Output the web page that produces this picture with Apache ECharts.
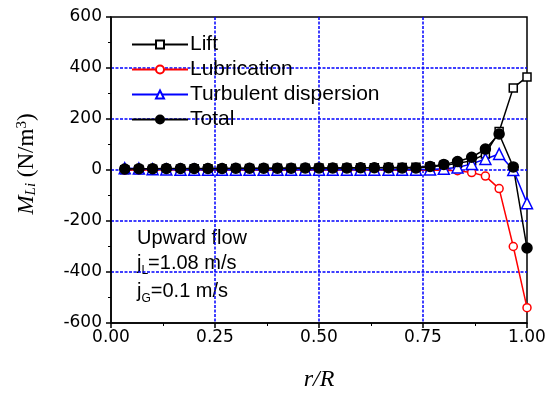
<!DOCTYPE html>
<html>
<head>
<meta charset="utf-8">
<script src="https://cdn.jsdelivr.net/npm/echarts@6/dist/echarts.min.js"></script>
<style>
  html, body { margin: 0; padding: 0; background: #fff; }
  #main { width: 558px; height: 397px; }
</style>
</head>
<body>
<div id="main"></div>
<script>
// r/R 位置
const rValues = [
  0.033, 0.067, 0.1, 0.133, 0.167, 0.2, 0.233, 0.267, 0.3, 0.333,
  0.367, 0.4, 0.433, 0.467, 0.5, 0.533, 0.567, 0.6, 0.633, 0.667,
  0.7, 0.733, 0.767, 0.8, 0.833, 0.867, 0.9, 0.933, 0.967, 1.0,
];
const liftVals = [
  1, 2, 3, 4, 4, 5, 5, 5, 6, 6,
  6, 7, 7, 7, 8, 8, 8, 9, 9, 10,
  10, 11, 13, 18, 26, 36, 63, 151, 322, 365,
];
const lubVals = [
  0, 0, 0, 0, 0, 0, 0, 0, 0, 0,
  0, 0, 0, 0, 0, 0, 0, 0, 0, 0,
  -1, -1, 0, -1, -3, -10, -24, -73, -300, -540,
];
const turbVals = [
  7, 6, 3, 2, 1, 1, 1, 1, 1, 1,
  1, 1, 1, 1, 1, 1, 1, 1, 1, 1,
  1, 1, 2, 5, 10, 24, 43, 63, 0, -130,
];
const totalVals = [
  4, 5, 5, 6, 6, 6, 6, 6, 7, 7,
  7, 7, 7, 8, 8, 8, 8, 9, 9, 9,
  8, 8, 14, 22, 33, 50, 82, 141, 12, -306,
];
const xTicks = [0, 0.25, 0.5, 0.75, 1.0];

const pairs = (vals) => rValues.map((r, i) => [r, vals[i]]);

const font = '"Liberation Sans", Arial, sans-serif';
const tickFont = '"DejaVu Sans", sans-serif';
const serif = '"Liberation Serif", "Times New Roman", serif';

// 网格线: 蓝色虚线
const gridLine = {
  show: true,
  lineStyle: { color: "#0000ff", type: [3, 1.5], width: 1.5 },
  showMinLine: false,
  showMaxLine: false,
};

const mkSeries = (name, vals, symbol, color, fill, size) => ({
  name,
  type: "line",
  data: pairs(vals),
  symbol,
  symbolSize: size,
  showSymbol: true,
  lineStyle: { color, width: 1.5 },
  itemStyle: { color: fill, borderColor: color, borderWidth: 1.5 },
  emphasis: { disabled: true },
  animation: false,
  z: 3,
});

const subRich = {
  a: { fontFamily: font, fontSize: 20, color: "#000" },
  s: { fontFamily: font, fontSize: 12, color: "#000", verticalAlign: "bottom", padding: [16, 0, 0, 0] },
};

const chart = echarts.init(document.getElementById("main"));
chart.setOption({
  animation: false,
  grid: { left: 111, right: 31, top: 17, bottom: 74, show: true, borderColor: "#000", borderWidth: 1.5, backgroundColor: "transparent" },
  xAxis: {
    type: "value",
    min: 0,
    max: 1,
    interval: 0.25,
    name: "r/R",
    nameLocation: "middle",
    nameGap: 45,
    nameTextStyle: { fontFamily: serif, fontStyle: "italic", fontSize: 24, color: "#000" },
    axisLine: { onZero: false, lineStyle: { color: "#000", width: 1.5 } },
    axisTick: { length: 5, lineStyle: { color: "#000", width: 1.5 } },
    minorTick: { show: true, splitNumber: 2, length: 3, lineStyle: { color: "#000", width: 1 } },
    axisLabel: {
      fontFamily: tickFont, fontSize: 17, color: "#000", margin: 6,
      formatter: (v) => v.toFixed(2),
      customValues: xTicks,
    },
    splitLine: gridLine,
  },
  yAxis: {
    type: "value",
    min: -600,
    max: 600,
    interval: 200,
    name: "{it|M}{sub|Li}{n| (N/m}{sup|3}{n|)}",
    nameLocation: "middle",
    nameRotate: 90,
    nameGap: 72,
    nameTextStyle: {
      color: "#000",
      padding: [0, 0, 0, 12],
      rich: {
        it: { fontFamily: serif, fontStyle: "italic", fontSize: 23, color: "#000" },
        sub: { fontFamily: serif, fontStyle: "italic", fontSize: 15, color: "#000", verticalAlign: "bottom", padding: [9, 0, 0, 0] },
        n: { fontFamily: serif, fontSize: 23, color: "#000" },
        sup: { fontFamily: serif, fontSize: 15, color: "#000", verticalAlign: "top", padding: [0, 0, 9, 0] },
      },
    },
    axisLine: { onZero: false, lineStyle: { color: "#000", width: 1.5 } },
    axisTick: { length: 5, lineStyle: { color: "#000", width: 1.5 } },
    minorTick: { show: true, splitNumber: 2, length: 3, lineStyle: { color: "#000", width: 1 } },
    axisLabel: { fontFamily: tickFont, fontSize: 17, color: "#000", margin: 9 },
    splitLine: gridLine,
  },
  legend: {
    orient: "vertical",
    left: 126,
    top: 29,
    itemWidth: 56,
    itemHeight: 10,
    itemGap: 4,
    textStyle: { fontFamily: font, fontSize: 21, color: "#000", lineHeight: 21, padding: [0, 0, 0, -3] },
    data: ["Lift", "Lubrication", "Turbulent dispersion", "Total"],
  },
  graphic: [
    {
      type: "text",
      left: 137,
      top: 228,
      style: { text: "Upward flow", font: "20px " + font, fill: "#000" },
    },
    {
      type: "text",
      left: 137,
      top: 253,
      style: { text: "{a|j}{s|L}{a|=1.08 m/s}", rich: subRich },
    },
    {
      type: "text",
      left: 137,
      top: 281,
      style: { text: "{a|j}{s|G}{a|=0.1 m/s}", rich: subRich },
    },
  ],
  series: [
    mkSeries("Lift", liftVals, "rect", "#000", "#fff", 8),
    mkSeries("Lubrication", lubVals, "circle", "#ff0000", "#fff", 8),
    mkSeries("Turbulent dispersion", turbVals, "triangle", "#0000ff", "#fff", 11),
    mkSeries("Total", totalVals, "circle", "#000", "#000", 10),
  ],
});
</script>
</body>
</html>
